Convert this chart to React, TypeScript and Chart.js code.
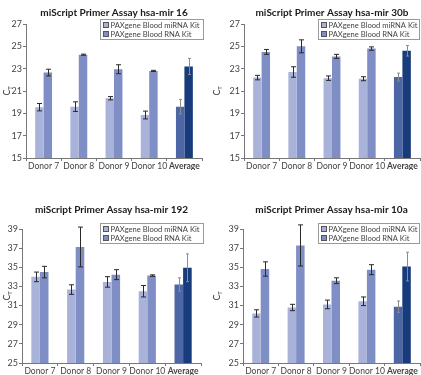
import React, { useEffect, useRef } from "react";
import { Chart, registerables } from "chart.js";

Chart.register(...registerables);

const categories = ["Donor 7", "Donor 8", "Donor 9", "Donor 10", "Average"];
const seriesNames = ["PAXgene Blood miRNA Kit", "PAXgene Blood RNA Kit"];

// hsa-mir 16
const mir16Mirna = [19.55, 19.6, 20.35, 18.85, 19.6];
const mir16MirnaErr = [0.33, 0.43, 0.15, 0.35, 0.65];
const mir16Rna = [22.65, 24.25, 22.95, 22.8, 23.2];
const mir16RnaErr = [0.3, 0.05, 0.4, 0.05, 0.72];

// hsa-mir 30b
const mir30bMirna = [22.2, 22.7, 22.15, 22.1, 22.25];
const mir30bMirnaErr = [0.2, 0.47, 0.2, 0.18, 0.35];
const mir30bRna = [24.5, 25.0, 24.1, 24.8, 24.6];
const mir30bRnaErr = [0.22, 0.58, 0.18, 0.15, 0.47];

// hsa-mir 192
const mir192Mirna = [34.0, 32.67, 33.47, 32.5, 33.2];
const mir192MirnaErr = [0.5, 0.5, 0.55, 0.6, 0.7];
const mir192Rna = [34.5, 37.12, 34.23, 34.13, 34.95];
const mir192RnaErr = [0.6, 2.08, 0.52, 0.08, 1.45];

// hsa-mir 10a
const mir10aMirna = [30.18, 30.8, 31.12, 31.45, 30.88];
const mir10aMirnaErr = [0.38, 0.33, 0.45, 0.45, 0.6];
const mir10aRna = [34.82, 37.28, 33.6, 34.75, 35.07];
const mir10aRnaErr = [0.75, 2.15, 0.3, 0.52, 1.5];

const yTicks1 = [15, 27];
const yTicks2 = [25, 39];

const FONT = "Lato, 'Open Sans', sans-serif";
const lightCol = "#a9b3d9";
const midCol = "#7f8ec5";
const avgLightCol = "#4d66a6";
const avgDarkCol = "#173b7b";

type PanelProps = {
  title: string;
  a: number[];
  aErr: number[];
  b: number[];
  bErr: number[];
  range: number[];
  left: number;
  top: number;
  width: number;
  height: number;
  titleY: number;
  area: { l: number; r: number; t: number; b: number };
  legend: { x: number; y: number; w: number };
};

function Panel(p: PanelProps) {
  const ref = useRef<HTMLCanvasElement | null>(null);
  useEffect(() => {
    if (!ref.current) return;
    const errs = [p.aErr, p.bErr];
    const overlay = {
      id: "overlay",
      afterDatasetsDraw(chart: any) {
        const ctx = chart.ctx;
        const ys = chart.scales.y;
        ctx.save();
        chart.data.datasets.forEach((ds: any, di: number) => {
          const meta = chart.getDatasetMeta(di);
          meta.data.forEach((el: any, i: number) => {
            const v = ds.data[i];
            const e = errs[di][i];
            const y1 = ys.getPixelForValue(v + e);
            const y2 = ys.getPixelForValue(v - e);
            const x = Math.round(el.x) + 0.5;
            const isAvg = i === categories.length - 1;
            ctx.strokeStyle = isAvg ? "#8c8c8c" : "#2a2a2a";
            ctx.lineWidth = 1;
            const cw = isAvg ? 1.5 : 2.5;
            ctx.beginPath();
            ctx.moveTo(x, y1);
            ctx.lineTo(x, y2);
            ctx.moveTo(x - cw, y1);
            ctx.lineTo(x + cw, y1);
            ctx.moveTo(x - cw, y2);
            ctx.lineTo(x + cw, y2);
            ctx.stroke();
          });
        });
        ctx.restore();
      },
      afterDraw(chart: any) {
        const ctx = chart.ctx;
        const ca = chart.chartArea;
        ctx.save();
        // title
        ctx.fillStyle = "#1a1a1a";
        ctx.font = `bold 10px ${FONT}`;
        ctx.textAlign = "center";
        ctx.textBaseline = "middle";
        ctx.fillText(p.title, (ca.left + ca.right) / 2, p.titleY);
        // Y label C_T
        ctx.translate(7, (ca.top + ca.bottom) / 2);
        ctx.rotate(-Math.PI / 2);
        ctx.fillStyle = "#333";
        ctx.font = `9px ${FONT}`;
        ctx.textAlign = "center";
        ctx.textBaseline = "middle";
        ctx.fillText("C", -1.5, 0);
        ctx.font = `6px ${FONT}`;
        ctx.fillText("T", 3, 3);
        ctx.restore();
        // legend
        ctx.save();
        const L = p.legend;
        ctx.strokeStyle = "#9a9a9a";
        ctx.lineWidth = 1;
        ctx.fillStyle = "#ffffff";
        ctx.fillRect(L.x + 0.5, L.y + 0.5, L.w, 20);
        ctx.strokeRect(L.x + 0.5, L.y + 0.5, L.w, 20);
        const cols = [lightCol, midCol];
        ctx.font = `7.6px ${FONT}`;
        ctx.textAlign = "left";
        ctx.textBaseline = "middle";
        seriesNames.forEach((n, i) => {
          const cy = L.y + 6 + i * 9;
          ctx.fillStyle = cols[i];
          ctx.fillRect(L.x + 3.5, cy - 2.5, 5, 5);
          ctx.strokeStyle = "#555";
          ctx.strokeRect(L.x + 3.5, cy - 2.5, 5, 5);
          ctx.fillStyle = "#444";
          ctx.fillText(n, L.x + 10.5, cy + 0.5);
        });
        ctx.restore();
      },
    };

    const chart = new Chart(ref.current, {
      type: "bar",
      data: {
        labels: categories,
        datasets: [
          {
            label: seriesNames[0],
            data: p.a,
            backgroundColor: categories.map((_, i) => (i === 4 ? avgLightCol : lightCol)),
            borderWidth: 0,
            categoryPercentage: 0.48,
            barPercentage: 1,
          },
          {
            label: seriesNames[1],
            data: p.b,
            backgroundColor: categories.map((_, i) => (i === 4 ? avgDarkCol : midCol)),
            borderWidth: 0,
            categoryPercentage: 0.48,
            barPercentage: 1,
          },
        ],
      },
      options: {
        responsive: false,
        animation: false,
        layout: {
          padding: {
            left: 0,
            top: p.area.t,
            right: p.width - p.area.r,
            bottom: p.height - p.area.b - 12,
          },
        },
        plugins: {
          legend: { display: false },
          title: { display: false },
          tooltip: { enabled: false },
        },
        scales: {
          x: {
            offset: true,
            grid: {
              offset: true,
              drawOnChartArea: false,
              drawTicks: true,
              tickLength: 3,
              color: "#777",
            },
            border: { color: "#777", width: 1 },
            ticks: {
              padding: 0,
              color: "#444",
              maxRotation: 0,
              autoSkip: false,
              font: (c: any) => ({
                family: FONT,
                size: 8.5,
                weight: c.index === 4 ? "bold" : "normal",
              }),
            },
            afterFit: (s: any) => {
              s.height = 12;
            },
          },
          y: {
            min: p.range[0],
            max: p.range[1],
            grid: {
              drawOnChartArea: false,
              drawTicks: true,
              tickLength: 3,
              color: "#777",
            },
            border: { color: "#777", width: 1 },
            ticks: {
              stepSize: 2,
              padding: 1,
              color: "#444",
              font: { family: FONT, size: 9 },
            },
            afterFit: (s: any) => {
              s.width = p.area.l;
            },
          },
        },
      },
      plugins: [overlay],
    } as any);
    return () => chart.destroy();
  }, []);
  return (
    <canvas
      ref={ref}
      width={p.width}
      height={p.height}
      style={{ position: "absolute", left: p.left, top: p.top, width: p.width, height: p.height }}
    />
  );
}

export default function App() {
  return (
    <div style={{ position: "absolute", left: 0, top: 0, width: 421, height: 375, background: "#fff" }}>
      <Panel
        title="miScript Primer Assay hsa-mir 16"
        a={mir16Mirna}
        aErr={mir16MirnaErr}
        b={mir16Rna}
        bErr={mir16RnaErr}
        range={yTicks1}
        left={0}
        top={0}
        width={210}
        height={187}
        titleY={13}
        area={{ l: 26, r: 202, t: 24, b: 158 }}
        legend={{ x: 100, y: 19, w: 103 }}
      />
      <Panel
        title="miScript Primer Assay hsa-mir 30b"
        a={mir30bMirna}
        aErr={mir30bMirnaErr}
        b={mir30bRna}
        bErr={mir30bRnaErr}
        range={yTicks1}
        left={210}
        top={0}
        width={211}
        height={187}
        titleY={13}
        area={{ l: 34, r: 210, t: 24, b: 158 }}
        legend={{ x: 108, y: 19, w: 101 }}
      />
      <Panel
        title="miScript Primer Assay hsa-mir 192"
        a={mir192Mirna}
        aErr={mir192MirnaErr}
        b={mir192Rna}
        bErr={mir192RnaErr}
        range={yTicks2}
        left={0}
        top={187}
        width={210}
        height={188}
        titleY={23}
        area={{ l: 22, r: 201, t: 42, b: 176 }}
        legend={{ x: 100, y: 36, w: 103 }}
      />
      <Panel
        title="miScript Primer Assay hsa-mir 10a"
        a={mir10aMirna}
        aErr={mir10aMirnaErr}
        b={mir10aRna}
        bErr={mir10aRnaErr}
        range={yTicks2}
        left={210}
        top={187}
        width={211}
        height={188}
        titleY={23}
        area={{ l: 33, r: 210, t: 42, b: 176 }}
        legend={{ x: 108, y: 36, w: 101 }}
      />
    </div>
  );
}
